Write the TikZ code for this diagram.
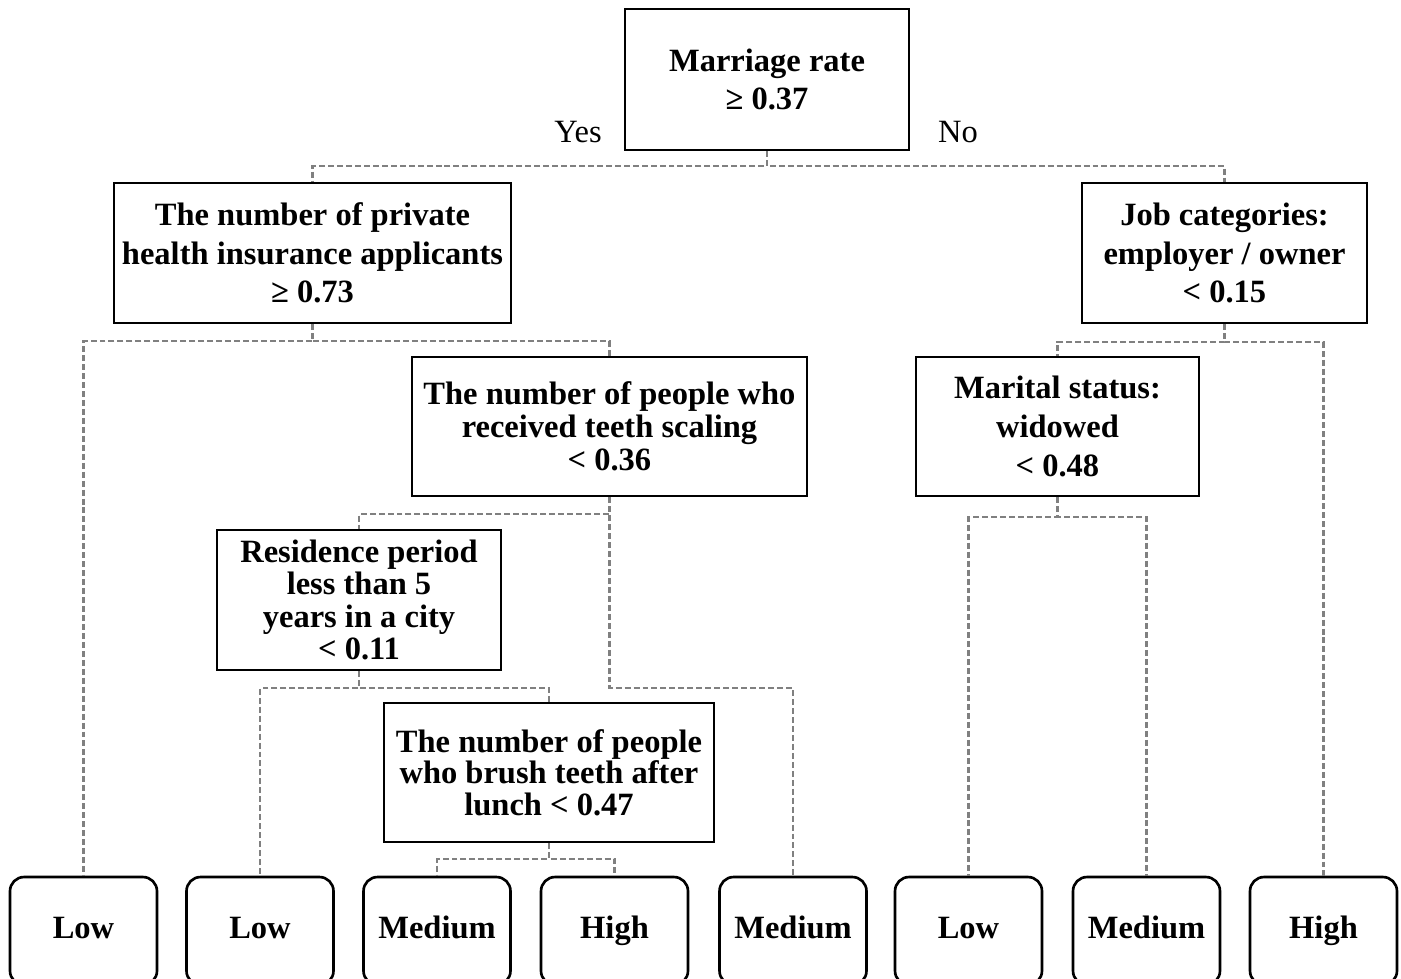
\documentclass[tikz,border=0pt]{standalone}
\usepackage{fontspec}
\setmainfont{Liberation Serif}
\tikzset{
   split/.style={draw, line width=1.5pt, align=center, inner sep=0pt,
                 font=\bfseries\fontsize{18.5}{22}\selectfont},
   leaf/.style={draw, line width=1.5pt, rounded corners=8pt, inner sep=0pt,
                minimum width=2.94cm, minimum height=2.16cm,
                text height=0.85em, text depth=0pt,
                font=\bfseries\fontsize{18.5}{22}\selectfont},
   link/.style={draw=gray, line width=1.3pt, dash pattern=on 3.4pt off 1.7pt},
   answer/.style={font=\fontsize{18.5}{22}\selectfont}
}
\begin{document}
\begin{tikzpicture}[x=0.02cm,y=-0.02cm]
\useasboundingbox (0,0) rectangle (1401,978);
\clip (0,0) rectangle (1401,978);
\node[split, minimum width=5.68cm, minimum height=2.82cm] (root) at (767,79.5) {Marriage rate\\≥ 0.37};
\node[split, minimum width=7.94cm, minimum height=2.8cm] (priv) at (312.5,253) {The number of private\\health insurance applicants\\≥ 0.73};
\node[split, minimum width=5.7cm, minimum height=2.8cm] (job) at (1224.5,253) {Job categories:\\employer / owner\\< 0.15};
\node[split, minimum width=7.9cm, minimum height=2.78cm, font=\bfseries\fontsize{18.5}{18.7}\selectfont] (teeth) at (609.5,426.5) {The number of people who\\received teeth scaling\\< 0.36};
\node[split, minimum width=5.66cm, minimum height=2.78cm] (marital) at (1057.5,426.5) {Marital status:\\widowed\\< 0.48};
\node[split, minimum width=5.68cm, minimum height=2.8cm, font=\bfseries\fontsize{18.5}{18.4}\selectfont] (resid) at (359,600) {Residence period\\less than 5\\years in a city\\< 0.11};
\node[split, minimum width=6.6cm, minimum height=2.78cm, font=\bfseries\fontsize{18.5}{18}\selectfont] (brush) at (549,772.5) {The number of people\\who brush teeth after\\lunch < 0.47};
\node[leaf] (lowa) at (83.5,931) {Low};
\node[leaf] (lowb) at (260,931) {Low};
\node[leaf] (meda) at (437,931) {Medium};
\node[leaf] (higha) at (614.5,931) {High};
\node[leaf] (medb) at (793,931) {Medium};
\node[leaf] (lowc) at (968.5,931) {Low};
\node[leaf] (medc) at (1146.5,931) {Medium};
\node[leaf] (highb) at (1323.5,931) {High};
\node[answer] (yes) at (578,132) {Yes};
\node[answer] (no) at (958,132) {No};
\draw[link] (root.south) -- ++(0,15) -| (priv.north);
\draw[link] (root.south) -- ++(0,15) -| (job.north);
\draw[link] (priv.south) -- ++(0,17) -| (lowa.north);
\draw[link] (priv.south) -- ++(0,17) -| (teeth.north);
\draw[link] (teeth.south) -- ++(0,17) -| (resid.north);
\draw[link] (teeth.south) -- ++(0,191) -| (medb.north);
\draw[link] (resid.south) -- ++(0,17) -| (lowb.north);
\draw[link] (resid.south) -- ++(0,17) -| (brush.north);
\draw[link] (brush.south) -- ++(0,16) -| (meda.north);
\draw[link] (brush.south) -- ++(0,16) -| (higha.north);
\draw[link] (job.south) -- ++(0,18) -| (marital.north);
\draw[link] (job.south) -- ++(0,18) -| (highb.north);
\draw[link] (marital.south) -- ++(0,20) -| (lowc.north);
\draw[link] (marital.south) -- ++(0,20) -| (medc.north);
\end{tikzpicture}
\end{document}
